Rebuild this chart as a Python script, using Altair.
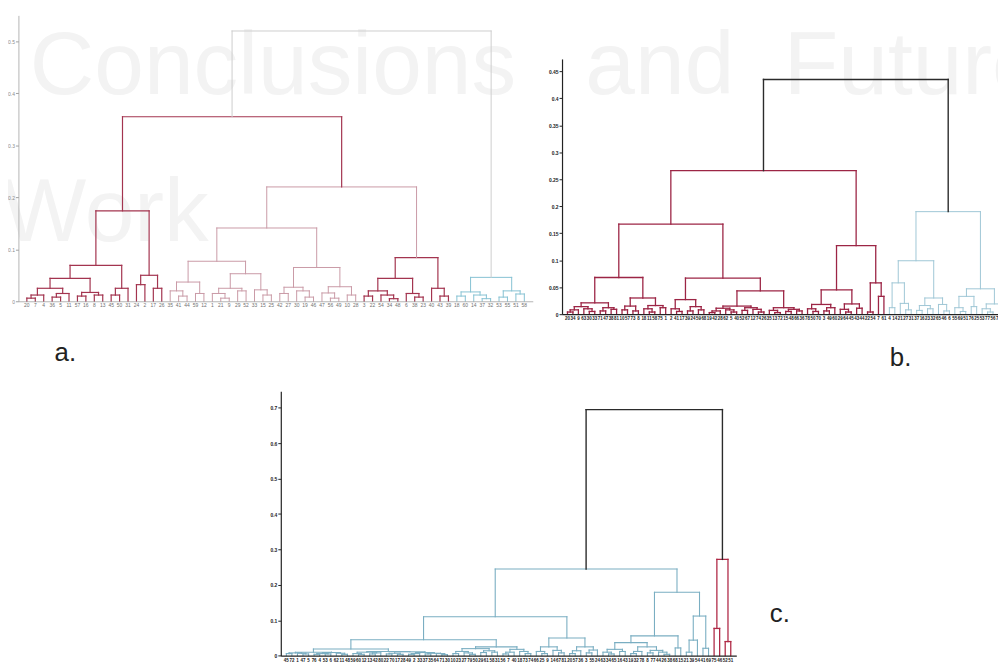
import altair as alt
import pandas as pd

# ---------------- data: dendrogram trees (height, left, right); ints = leaf order ----------------
# chart a
A_L = (0.174,
       (0.069,
        (0.044,
         (0.025, (0.012, (0.006, 1, 2), 3), (0.015, (0.008, 4, 5), 6)),
         (0.017, (0.010, 7, 8), (0.012, 9, 10))),
        (0.025, (0.012, 11, 12), 13)),
       (0.050, (0.032, 14, 15), (0.025, 16, 17)))
A_R1 = (0.141,
        (0.077,
         (0.037, (0.020, 18, (0.010, 19, 20)), (0.015, 21, 22)),
         (0.053, (0.025, (0.015, 23, (0.006, 24, 25)), (0.020, 26, 27)), (0.022, 28, (0.012, 29, 30)))),
        (0.065,
         (0.027, (0.015, 31, 32), (0.020, 33, (0.008, 34, 35))),
         (0.028, (0.016, 36, (0.006, 37, 38)), (0.012, 39, 40))))
A_R2 = (0.084,
        (0.044, (0.020, (0.010, 41, 42), (0.012, 43, (0.005, 44, 45))), (0.015, 46, (0.008, 47, 48))),
        (0.025, 49, (0.010, 50, 51)))
A_R = (0.220, A_R1, A_R2)
A_RED = (0.355, A_L, A_R)
A_BLUE = (0.046, (0.018, (0.010, 52, 53), (0.012, 54, (0.005, 55, 56))),
          (0.020, (0.008, 57, 58), (0.014, 59, 60)))
A_TOP = (0.520, A_RED, A_BLUE)
a_leaf_labels = ("20 7 4 36 5 11 57 16 8 13 45 50 31 24 2 17 26 35 41 44 59 12 1 21 9 29 52 33 15 25 "
                 "42 27 30 19 46 47 56 49 10 28 3 22 54 34 48 6 38 23 40 43 39 18 60 14 37 32 53 55 51 58").split()
a_ticks = [0, 0.1, 0.2, 0.3, 0.4, 0.5]

# chart b
B_RL1 = (0.068,
         (0.021, (0.014, (0.008, (0.004, 1, 2), 3), (0.010, 4, (0.005, 5, 6))),
          (0.012, (0.006, 7, 8), (0.009, 9, 10))),
         (0.030, (0.015, (0.008, 11, 12), (0.006, 13, 14)),
          (0.016, (0.010, 15, (0.004, 16, 17)), (0.012, 18, 19))))
B_RL2 = (0.067,
         (0.027, (0.010, 20, (0.005, 21, 22)), (0.014, (0.006, 23, 24), (0.008, 25, 26))),
         (0.043,
          (0.015, (0.011, (0.006, (0.003, 27, 28), 29), (0.008, 30, (0.004, 31, 32))),
           (0.012, (0.007, 33, 34), (0.009, 35, (0.004, 36, 37)))),
          (0.012, (0.007, 38, (0.003, 39, 40)), (0.009, (0.005, 41, 42), (0.006, 43, 44)))))
B_RL = (0.167, B_RL1, B_RL2)
B_RR = (0.127,
        (0.045, (0.018, (0.010, 45, (0.005, 46, 47)), (0.012, (0.006, 48, 49), 50)),
         (0.019, (0.009, 51, (0.004, 52, 53)), (0.011, 54, 55))),
        (0.058, (0.004, 56, 57), (0.033, 58, 59)))
B_RED = (0.266, B_RL, B_RR)
B_BLUE = (0.190,
          (0.099, (0.058, (0.012, 60, 61), (0.020, 62, (0.008, 63, 64))),
           (0.030, (0.016, (0.007, 65, 66), (0.010, 67, 68)), (0.018, 69, (0.006, 70, 71)))),
          (0.047, (0.033, (0.012, 72, (0.005, 73, 74)), (0.014, 75, 76)),
           (0.019, (0.010, 77, (0.004, 78, 79)), (0.012, 80, (0.006, 81, 82)))))
B_TOP = (0.435, B_RED, B_BLUE)
b_leaf_labels = ("20 34 9 63 30 33 71 47 38 81 10 57 73 8 18 11 58 75 1 2 41 17 39 24 59 68 19 42 28 62 "
                 "5 40 52 67 12 74 26 35 13 72 15 48 66 36 78 50 70 3 49 60 29 64 45 43 44 22 54 7 61 4 "
                 "14 21 27 31 37 16 23 32 65 46 6 55 69 51 76 25 53 77 56 79 80 82").split()
b_ticks = [0, 0.05, 0.1, 0.15, 0.2, 0.25, 0.3, 0.35, 0.4, 0.45]

# chart c
C_B111 = (0.019,
          (0.010, (0.008, (0.006, 1, 2), (0.007, 3, (0.005, 4, 5))),
           (0.009, (0.006, (0.004, 6, 7), (0.005, 8, 9)), (0.007, 10, (0.004, 11, 12)))),
          (0.012, (0.010, (0.006, 13, (0.004, 14, 15)), (0.008, (0.005, 16, 17), 18)),
           (0.011, (0.007, (0.005, 19, 20), (0.004, 21, 22)),
            (0.009, (0.006, (0.004, 23, 24), 25), (0.007, (0.005, 26, 27), (0.006, 28, (0.003, 29, 30)))))))
C_B112 = (0.025,
          (0.020, (0.012, (0.006, 31, 32), (0.008, 33, (0.004, 34, 35))), (0.014, (0.009, 36, 37), (0.010, 38, 39))),
          (0.018, (0.010, (0.005, 40, 41), 42), (0.012, 43, (0.006, 44, 45))))
C_B12 = (0.050,
         (0.025, (0.012, 46, (0.006, 47, 48)), (0.015, 49, (0.008, 50, 51))),
         (0.025, (0.014, (0.006, 52, 53), 54), (0.016, (0.008, 55, 56), 57)))
C_B1 = (0.110, (0.045, C_B111, C_B112), C_B12)
C_B21 = (0.056,
         (0.037, (0.018, (0.010, 58, (0.005, 59, 60)), (0.012, 61, 62)),
          (0.025, (0.012, (0.006, 63, 64), 65), (0.015, (0.008, 66, 67), (0.010, 68, (0.004, 69, 70))))),
         (0.022, 71, 72))
C_B22 = (0.112, (0.044, (0.010, 73, 74), 75), (0.021, 76, 77))
C_BLUE = (0.245, C_B1, (0.179, C_B21, C_B22))
C_RED = (0.272, (0.077, 78, 79), (0.040, 80, 81))
C_TOP = (0.695, C_BLUE, C_RED)
c_leaf_labels = ("45 72 1 47 5 76 4 53 6 62 11 48 59 60 12 13 42 80 22 70 17 28 49 2 33 37 35 64 71 30 "
                 "10 23 27 79 50 29 61 58 31 56 7 40 18 73 74 66 25 9 14 67 81 20 57 36 3 55 24 63 34 65 "
                 "16 43 19 32 78 8 77 44 26 38 68 15 21 39 54 41 69 75 46 52 51").split()
c_ticks = [0, 0.1, 0.2, 0.3, 0.4, 0.5, 0.6, 0.7]

# ---------------- styles (kept apart from the data) ----------------
FONT = "Liberation Sans"
W, H = 998, 656

def walk(node, style, styles, segs):
    if isinstance(node, int):
        return float(node), 0.0
    st = styles.get(id(node), style)
    h, left, right = node
    xl, hl = walk(left, st, styles, segs)
    xr, hr = walk(right, st, styles, segs)
    col, w = st
    segs.append(dict(x=xl, x2=xl, y=hl, y2=h, col=col, w=w))
    segs.append(dict(x=xr, x2=xr, y=hr, y2=h, col=col, w=w))
    segs.append(dict(x=xl, x2=xr, y=h, y2=h, col=col, w=w))
    return (xl + xr) / 2, h


def dendro(root, styles, labels, xdom, xrange, ydom, yrange, ticks, axis_style, label_style):
    segs = []
    walk(root, styles[id(root)], styles, segs)
    df = pd.DataFrame(segs)
    leaves = pd.DataFrame({"pos": [float(i + 1) for i in range(len(labels))],
                           "lab": labels, "zero": [0.0] * len(labels)})
    xs = alt.Scale(domain=xdom, range=xrange, nice=False, zero=False)
    ys = alt.Scale(domain=ydom, range=yrange, nice=False, zero=False)
    xa = alt.Axis(orient="bottom", offset=-(H - yrange[0]), labels=False, ticks=False, grid=False,
                  title=None, domainColor=axis_style["dc"], domainWidth=axis_style["dw"], zindex=1)
    ya = alt.Axis(orient="left", offset=-xrange[0], values=ticks, format="~g", grid=False, title=None,
                  labelFontSize=5, labelFont=FONT, labelColor=axis_style["lc"],
                  labelFontWeight=axis_style["lw"], domainColor=axis_style["dc"],
                  domainWidth=axis_style["dw"], tickColor=axis_style["dc"], tickSize=3,
                  labelPadding=1, zindex=1)
    rules = alt.Chart(df).mark_rule(strokeCap="square").encode(
        x=alt.X("x:Q", scale=xs, axis=xa), x2="x2:Q",
        y=alt.Y("y:Q", scale=ys, axis=ya), y2="y2:Q",
        color=alt.Color("col:N", scale=None, legend=None),
        strokeWidth=alt.StrokeWidth("w:Q", scale=None, legend=None),
    )
    text = alt.Chart(leaves).mark_text(baseline="top", dy=2, font=FONT, **label_style).encode(
        x=alt.X("pos:Q", scale=xs, axis=xa),
        y=alt.Y("zero:Q", scale=ys, axis=ya),
        text="lab:N",
    )
    return alt.layer(rules, text)


a_styles = {id(A_TOP): ("#cdcdcd", 1.0), id(A_RED): ("#a3344f", 1.2), id(A_R): ("#c99aa6", 1.0),
            id(A_R2): ("#a3344f", 1.2), id(A_BLUE): ("#86c1d2", 1.0)}
b_styles = {id(B_TOP): ("#2b2b2b", 1.4), id(B_RED): ("#9c2545", 1.3), id(B_BLUE): ("#9fc6d6", 1.0)}
c_styles = {id(C_TOP): ("#2b2b2b", 1.4), id(C_BLUE): ("#7aaec2", 1.1), id(C_RED): ("#b02a47", 1.3)}

chart_a = dendro(A_TOP, a_styles, a_leaf_labels, [0, 61], [10.5, 529], [0, 0.55], [293, 4.8], a_ticks,
                 dict(dc="#a0a0a0", dw=0.8, lc="#8a8a8a", lw="normal"),
                 dict(fontSize=5, color="#707070"))
chart_b = dendro(B_TOP, b_styles, b_leaf_labels, [0, 80], [558.5, 998.5], [0, 0.473], [306, 48.7], b_ticks,
                 dict(dc="#222222", dw=1.2, lc="#222222", lw="bold"),
                 dict(fontSize=4.5, fontWeight="bold", color="#1a1a1a"))
chart_c = dendro(C_TOP, c_styles, c_leaf_labels, [0, 82], [275, 734.2], [0, 0.747], [650.3, 383.6], c_ticks,
                 dict(dc="#222222", dw=1.2, lc="#222222", lw="bold"),
                 dict(fontSize=4.5, fontWeight="bold", color="#1a1a1a"))

# faint show-through heading from the facing page, and the panel letters
ghost = pd.DataFrame({"t": ["Conclusions", "and", "Future", "Work"],
                      "px": [22, 582, 782, -6], "py": [84, 84, 84, 232]})
ghost_layer = alt.Chart(ghost).mark_text(align="left", baseline="alphabetic", font=FONT, fontSize=90,
                                         color="#f3f3f3").encode(
    x=alt.X("px:Q", scale=None, axis=None), y=alt.Y("py:Q", scale=None, axis=None), text="t:N")

panels = pd.DataFrame({"t": ["a.", "b.", "c."], "px": [47, 889, 768], "py": [353, 358, 616]})
panel_layer = alt.Chart(panels).mark_text(align="left", baseline="alphabetic", font=FONT, fontSize=26,
                                          color="#222222").encode(
    x=alt.X("px:Q", scale=None, axis=None), y=alt.Y("py:Q", scale=None, axis=None), text="t:N")

chart = alt.layer(ghost_layer, chart_a, chart_b, chart_c, panel_layer).resolve_scale(
    x="independent", y="independent").resolve_axis(x="independent", y="independent").properties(
    width=W, height=H, padding=0, autosize=alt.AutoSizeParams(type="none"), background="#ffffff"
).configure_view(stroke=None)

chart.save("out.html", embed_options={"renderer": "svg", "actions": False})
